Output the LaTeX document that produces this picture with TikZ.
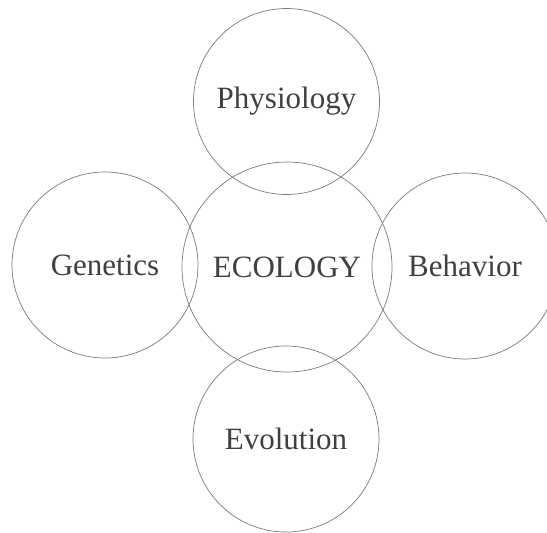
\documentclass[tikz,border=0pt]{standalone}
\usepackage{fontspec}
\setmainfont{Liberation Serif}
\definecolor{ringgray}{HTML}{7A7A7A}
\definecolor{inkgray}{HTML}{404040}
\usetikzlibrary{positioning}

\begin{document}
\begin{tikzpicture}[x=0.5pt, y=-0.5pt,
  ring/.style={circle, draw=ringgray, line width=0.35pt, minimum size=93pt, inner sep=0pt, align=center, text=inkgray, font=\fontsize{15.5}{18}\selectfont},
  core/.style={ring, minimum size=105pt}]
\useasboundingbox (0,0) rectangle (547,532);
\node[core] (ecology) at (287,267) {ECOLOGY};
\node[ring] (physiology) at (286.5,101.5) {Physiology};
\node[ring] (genetics) at (105,265) {Genetics};
\node[ring] (behavior) at (465,266) {Behavior};
\node[ring] (evolution) at (286,439) {Evolution};
\end{tikzpicture}
\end{document}
